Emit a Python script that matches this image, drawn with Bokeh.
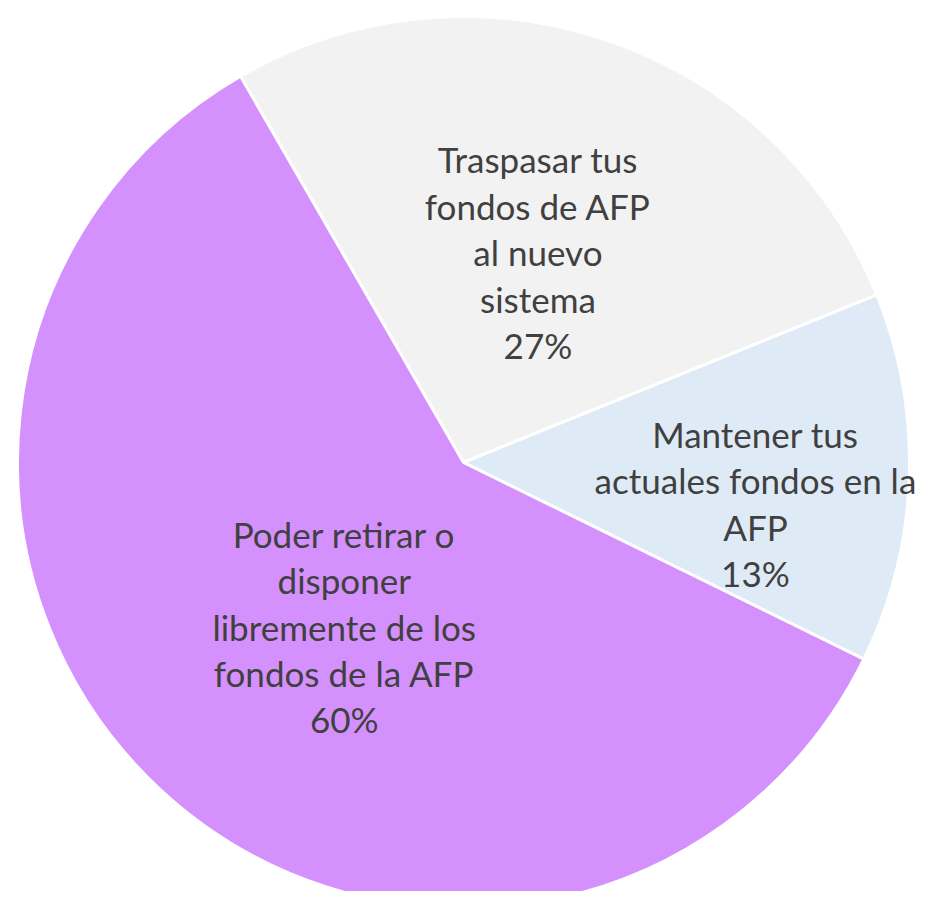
import math
from bokeh.plotting import figure
from bokeh.models import Range1d, ColumnDataSource
from bokeh.core.properties import value
from bokeh.embed import file_html
from bokeh.resources import INLINE

# ---- data ----
categories = [
    "Traspasar tus\nfondos de AFP\nal nuevo\nsistema",
    "Mantener tus\nactuales fondos en la\nAFP",
    "Poder retirar o\ndisponer\nlibremente de los\nfondos de la AFP",
]
shares = [27.2, 13.4, 59.4]
share_labels = ["27%", "13%", "60%"]
colors = ["#F2F2F2", "#DEEBF7", "#D490FC"]

# ---- layout ----
W, H = 923, 891
CX, CY = 463, 462          # pie centre in figure pixels (from top-left)
R = 446
START = -30.0              # first slice start, degrees clockwise from 12 o'clock
# label anchors: (radius fraction, angle clockwise from top in degrees)
label_pos = [(0.50, 19.5), (0.661, 98.0), (0.455, 216.0)]

p = figure(width=W, height=H, output_backend="svg", toolbar_location=None,
           x_range=Range1d(-CX, W - CX), y_range=Range1d(-(H - CY), CY),
           min_border=0)
p.axis.visible = False
p.grid.visible = False
p.outline_line_color = None
p.background_fill_color = "white"

total = sum(shares)
starts, ends = [], []
acc = START
for s in shares:
    a0 = acc
    a1 = acc + 360.0 * s / total
    # convert clockwise-from-top to math angles (counter-clockwise from +x)
    starts.append(math.radians(90.0 - a1))
    ends.append(math.radians(90.0 - a0))
    acc = a1

src = ColumnDataSource(dict(start=starts, end=ends, color=colors))
p.wedge(x=0, y=0, radius=R, start_angle="start", end_angle="end",
        direction="anticlock", fill_color="color", line_color="white",
        line_width=3, source=src)

lx, ly, txt = [], [], []
for (fr, ang), cat, lab in zip(label_pos, categories, share_labels):
    a = math.radians(ang)
    lx.append(fr * R * math.sin(a))
    ly.append(fr * R * math.cos(a))
    txt.append(cat + "\n" + lab)

p.text(x=lx, y=ly, text=txt, text_align="center", text_baseline="middle",
       text_font=value("Lato"), text_font_size="35px", text_color="#404040",
       text_line_height=1.105)

open("out.html", "w").write(file_html(p, INLINE))
